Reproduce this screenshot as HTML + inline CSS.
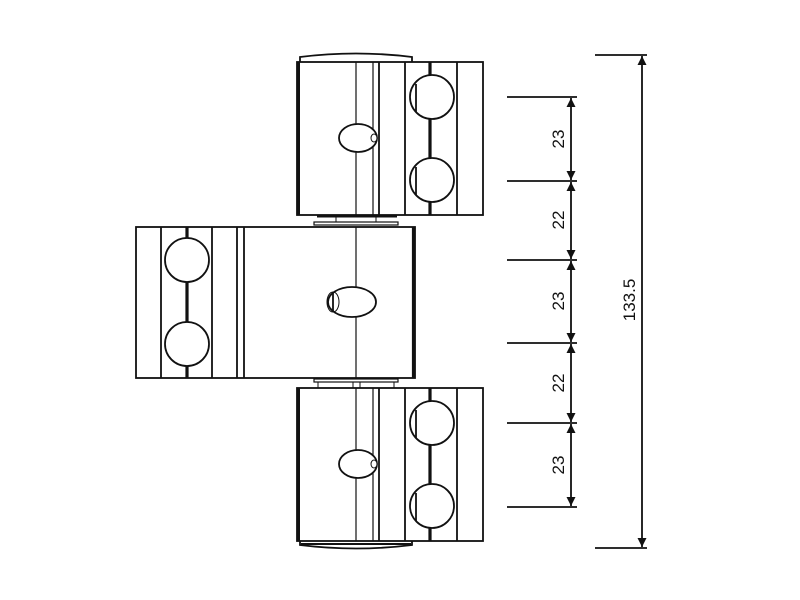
<!DOCTYPE html>
<html><head><style>body{margin:0;background:#fff}svg{display:block}</style></head><body>
<svg width="800" height="600" viewBox="0 0 800 600" xmlns="http://www.w3.org/2000/svg" font-family="Liberation Sans, sans-serif">
<defs>
<marker id="a" viewBox="0 0 10 10" refX="10" refY="5" markerWidth="12" markerHeight="9" markerUnits="userSpaceOnUse" orient="auto"><path d="M0,0L10,5L0,10z" fill="#111"/></marker>
<g id="blk">
 <rect x="297" y="0" width="186" height="153" fill="#fff" stroke="#111" stroke-width="1.8"/>
 <line x1="298.5" y1="0" x2="298.5" y2="153" stroke="#111" stroke-width="3"/>
 <line x1="356" y1="0" x2="356" y2="153" stroke="#111" stroke-width="1.2"/>
 <line x1="373" y1="0" x2="373" y2="153" stroke="#111" stroke-width="1.2"/>
 <line x1="379" y1="0" x2="379" y2="153" stroke="#111" stroke-width="1.8"/>
 <line x1="405" y1="0" x2="405" y2="153" stroke="#111" stroke-width="1.8"/>
 <line x1="430" y1="0" x2="430" y2="153" stroke="#111" stroke-width="3.2"/>
 <line x1="457" y1="0" x2="457" y2="153" stroke="#111" stroke-width="1.8"/>
 <circle cx="432" cy="35" r="22" fill="#fff" stroke="#111" stroke-width="1.8"/>
 <circle cx="432" cy="118" r="22" fill="#fff" stroke="#111" stroke-width="1.8"/>
 <line x1="416" y1="22" x2="416" y2="50" stroke="#111" stroke-width="1.8"/>
 <line x1="416" y1="105" x2="416" y2="133" stroke="#111" stroke-width="1.8"/>
 <ellipse cx="358" cy="76" rx="19" ry="14" fill="#fff" stroke="#111" stroke-width="1.8"/>
 <ellipse cx="374" cy="76" rx="3" ry="4" fill="#fff" stroke="#111"/>
</g>
</defs>
<path d="M300,62 L300,57 Q356,50 412,57 L412,62" fill="none" stroke="#111" stroke-width="1.8"/>
<use href="#blk" transform="translate(0,62)"/>
<rect x="317" y="215" width="80" height="2.5" fill="#111"/>
<line x1="336" y1="217" x2="336" y2="222" stroke="#111"/><line x1="376" y1="217" x2="376" y2="222" stroke="#111"/>
<rect x="314" y="222" width="84" height="3" fill="#fff" stroke="#111" stroke-width="1.2"/>
<rect x="136" y="227" width="279" height="151" fill="#fff" stroke="#111" stroke-width="1.8"/>
<line x1="413.5" y1="227" x2="413.5" y2="378" stroke="#111" stroke-width="3.2"/>
<line x1="161" y1="227" x2="161" y2="378" stroke="#111" stroke-width="1.8"/>
<line x1="187" y1="227" x2="187" y2="378" stroke="#111" stroke-width="3.2"/>
<line x1="212" y1="227" x2="212" y2="378" stroke="#111" stroke-width="1.8"/>
<line x1="237" y1="227" x2="237" y2="378" stroke="#111" stroke-width="1.8"/>
<line x1="244" y1="227" x2="244" y2="378" stroke="#111" stroke-width="1.8"/>
<line x1="356" y1="227" x2="356" y2="378" stroke="#111" stroke-width="1.2"/>
<circle cx="187" cy="260" r="22" fill="#fff" stroke="#111" stroke-width="1.8"/>
<circle cx="187" cy="344" r="22" fill="#fff" stroke="#111" stroke-width="1.8"/>
<ellipse cx="352" cy="302" rx="24" ry="15" fill="#fff" stroke="#111" stroke-width="1.8"/>
<ellipse cx="333" cy="302" rx="6" ry="10" fill="none" stroke="#111"/>
<line x1="333" y1="292" x2="333" y2="312" stroke="#111" stroke-width="1.8"/>
<rect x="314" y="379" width="84" height="3" fill="#fff" stroke="#111" stroke-width="1.2"/>
<line x1="318" y1="382" x2="318" y2="388" stroke="#111"/><line x1="394" y1="382" x2="394" y2="388" stroke="#111"/>
<line x1="353" y1="382" x2="353" y2="388" stroke="#111"/><line x1="360" y1="382" x2="360" y2="388" stroke="#111"/>
<use href="#blk" transform="translate(0,388)"/>
<path d="M300,541 L300,545 Q356,552 412,545 L412,541" fill="none" stroke="#111" stroke-width="1.8"/>
<line x1="301" y1="544" x2="411" y2="544" stroke="#111" stroke-width="2"/>
<g stroke="#111" stroke-width="1.8">
<line x1="507" y1="97" x2="577" y2="97"/><line x1="507" y1="181" x2="577" y2="181"/>
<line x1="507" y1="260" x2="577" y2="260"/><line x1="507" y1="343" x2="577" y2="343"/>
<line x1="507" y1="423" x2="577" y2="423"/><line x1="507" y1="507" x2="577" y2="507"/>
<line x1="595" y1="55" x2="647" y2="55"/><line x1="595" y1="548" x2="647" y2="548"/>
<line x1="571" y1="139" x2="571" y2="98" marker-end="url(#a)"/><line x1="571" y1="139" x2="571" y2="180" marker-end="url(#a)"/>
<line x1="571" y1="220" x2="571" y2="182" marker-end="url(#a)"/><line x1="571" y1="220" x2="571" y2="259" marker-end="url(#a)"/>
<line x1="571" y1="301" x2="571" y2="261" marker-end="url(#a)"/><line x1="571" y1="301" x2="571" y2="342" marker-end="url(#a)"/>
<line x1="571" y1="383" x2="571" y2="344" marker-end="url(#a)"/><line x1="571" y1="383" x2="571" y2="422" marker-end="url(#a)"/>
<line x1="571" y1="465" x2="571" y2="424" marker-end="url(#a)"/><line x1="571" y1="465" x2="571" y2="506" marker-end="url(#a)"/>
<line x1="642" y1="300" x2="642" y2="56" marker-end="url(#a)"/><line x1="642" y1="300" x2="642" y2="547" marker-end="url(#a)"/>
</g>
<g font-size="17" fill="#111" text-anchor="middle">
<text transform="translate(564,139) rotate(-90)">23</text>
<text transform="translate(564,220) rotate(-90)">22</text>
<text transform="translate(564,301) rotate(-90)">23</text>
<text transform="translate(564,383) rotate(-90)">22</text>
<text transform="translate(564,465) rotate(-90)">23</text>
<text transform="translate(635,300) rotate(-90)">133.5</text>
</g>
</svg>
</body></html>
